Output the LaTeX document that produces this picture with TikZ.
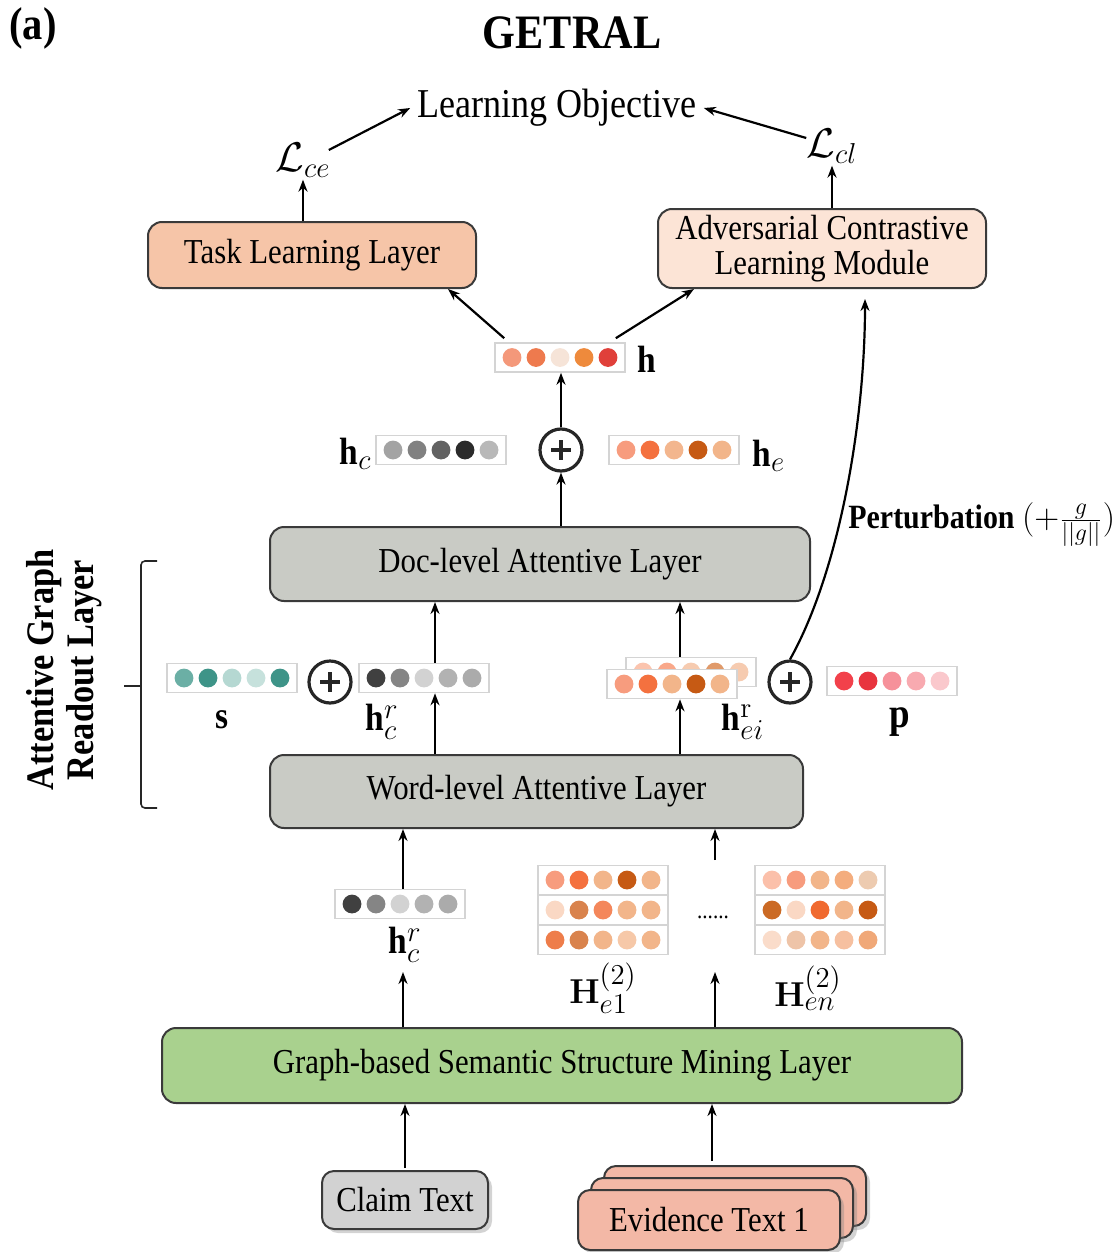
\documentclass[tikz,border=0pt]{standalone}
\usepackage[no-math]{fontspec}
\setmainfont{Liberation Serif}[FakeStretch=0.88]
\usetikzlibrary{arrows.meta,calc,shadows}

\newcommand{\fsz}[2]{\fontsize{#1}{#2}\selectfont}

\definecolor{taskfill}{HTML}{F6C5A8}
\definecolor{aclmfill}{HTML}{FCE4D6}
\definecolor{attnfill}{HTML}{C9CBC5}
\definecolor{graphfill}{HTML}{A9D18E}
\definecolor{claimfill}{HTML}{D2D2D2}
\definecolor{evidfill}{HTML}{F3B8A6}
\definecolor{edge}{HTML}{3A3A3A}

% a row of five coloured dots in a thin frame
\newcommand{\dotvec}[3]{%
  \node[vecbox] (#1) at (#2) {};
  \foreach \dcol [count=\di] in {#3} {
    \definecolor{dotc}{HTML}{\dcol}
    \fill[dotc] ($(#1.center)+({(\di-3)*24},0)$) circle[radius=4.7pt];
  }
}

% circled plus
\newcommand{\oplusnode}[2]{%
  \node[circle, draw=black!85, line width=1.6pt, minimum size=21pt, inner sep=0] (#1) at (#2) {};
  \draw[line width=1.6pt, black!85] ($(#1.center)+(-10,0)$) -- ($(#1.center)+(10,0)$)
    ($(#1.center)+(0,-10)$) -- ($(#1.center)+(0,10)$);
}

\begin{document}
\begin{tikzpicture}[x=0.5pt, y=-0.5pt,
  >={Stealth[length=6pt,width=4.5pt]},
  arr/.style={->, line width=1.1pt, black},
  layer/.style={draw=edge, line width=1pt, rounded corners=7pt, inner sep=0pt, font=\fsz{17.5}{18}},
  vecbox/.style={draw=black!17, line width=0.8pt, fill=white, minimum width=65pt, minimum height=14.5pt, inner sep=0pt},
  lbl/.style={font=\fsz{19}{22}, inner sep=1pt},
  txtbox/.style={draw=edge, line width=1pt, rounded corners=6pt, inner sep=0pt, font=\fsz{17.5}{18},
    drop shadow={shadow xshift=2pt, shadow yshift=-2pt, opacity=0.35}}
]
\useasboundingbox (0,0) rectangle (1119,1252);

% headings
\node[font=\bfseries\fsz{23}{26}] (tag) at (33,28) {(a)};
\node[font=\bfseries\fsz{24}{28}] (title) at (572,33) {GETRAL};

% objective and losses
\node[font=\fsz{20.5}{24}] (obj) at (557,108) {Learning Objective};
\node[font=\fsz{20}{24}, inner sep=1pt] (lce) at (303,160) {$\mathcal{L}_{ce}$};
\node[font=\fsz{20}{24}, inner sep=1pt] (lcl) at (832,146) {$\mathcal{L}_{cl}$};

% upper modules
\node[layer, fill=taskfill, minimum width=164pt, minimum height=33pt] (task) at (312,255) {Task Learning Layer};
\node[layer, fill=aclmfill, minimum width=164pt, minimum height=39.5pt, align=center, font=\fsz{17.5}{17.5}] (aclm) at (822,248.5) {Adversarial Contrastive\\Learning Module};

% fused representation
\dotvec{h}{560,357.5}{F4987A,EE7A4E,F6E4D8,EE8A3C,E0403A}
\node[lbl, anchor=west, font=\bfseries\fsz{19}{22}] (hlab) at (635,359) {h};

\oplusnode{plustop}{561,450}
\dotvec{hc}{441,450}{A3A3A3,818181,626262,2B2B2B,B8B8B8}
\node[lbl, anchor=east] (hclab) at (374,454) {\textbf{h}$_{c}$};
\dotvec{he}{674,450}{F79C7E,F4713F,F3B68E,C65A14,F2B58A}
\node[lbl, anchor=west] (helab) at (750,456) {\textbf{h}$_{e}$};

% readout layers
\node[layer, fill=attnfill, minimum width=270pt, minimum height=37pt] (doc) at (540,564) {Doc-level Attentive Layer};
\node[layer, fill=attnfill, minimum width=266.5pt, minimum height=36.5pt] (word) at (536.5,791.5) {Word-level Attentive Layer};

\dotvec{s}{232,678}{6BAFA5,3E9488,B5D8D2,C6E1DC,3E9488}
\node[lbl, font=\bfseries\fsz{19}{22}] (slab) at (222,720) {s};
\oplusnode{plusleft}{330,682}
\dotvec{hcrmid}{424,678}{404040,858585,D2D2D2,B2B2B2,ABABAB}
\node[lbl] (hcrmidlab) at (382,722) {\textbf{h}$^{r}_{c}$};

\dotvec{heiback}{691,672}{FBC4AE,F9A88A,F6CBB0,E09A6A,F6CBB0}
\dotvec{hei}{672,684}{F79C7E,F4713F,F2B58A,C65A14,F2B58A}
\node[lbl] (heilab) at (743,722) {\textbf{h}$^{\mathrm{r}}_{ei}$};
\oplusnode{plusright}{790,682}
\dotvec{p}{892,681}{F2414B,E8343E,F6919A,F8AAB0,FAC8CC}
\node[lbl, font=\bfseries\fsz{21}{22}] (plab) at (900,722) {p};

% square brace grouping the readout layers, and its caption
\draw[line width=0.8pt, black!85, rounded corners=2pt]
  (157,561) -- (141,561) -- (141,686) -- (141,808) -- (157,808);
\draw[line width=0.8pt, black!85] (124,686) -- (141,686);
\node[font=\bfseries\fsz{19.5}{20}, rotate=90, align=center] (readout) at (64,670) {Attentive Graph\\Readout Layer};

% graph layer outputs
\dotvec{hcrbot}{400,904}{404040,858585,D2D2D2,B2B2B2,ABABAB}
\node[lbl] (hcrbotlab) at (405,945) {\textbf{h}$^{r}_{c}$};

\dotvec{ea}{603,880}{F79C7E,F4713F,F2B58A,C65A14,F2B58A}
\dotvec{eb}{603,910}{FAD8C4,D9834D,F4875B,F2B58A,F2B58A}
\dotvec{ec}{603,940}{EE7D4A,D9834D,F2B58A,F6C8A8,F2B58A}
\node[lbl] (he1lab) at (603,988) {$\mathbf{H}^{(2)}_{e1}$};

\dotvec{na}{820,880}{FBC0AA,F79C7E,F2B58A,F4AD7E,EDCBB0}
\dotvec{nb}{820,910}{CB6A24,FAD8C4,F06A30,F2B58A,C65A14}
\dotvec{nc}{820,940}{FADCCA,EEC4A8,F2B58A,F6C0A0,F0A878}
\node[lbl] (henlab) at (808,988) {$\mathbf{H}^{(2)}_{en}$};
\node[font=\fsz{12}{14}] (dots) at (713,917) {......};

% graph layer and inputs
\node[layer, fill=graphfill, minimum width=400pt, minimum height=37.5pt] (graph) at (562,1065.5) {Graph-based Semantic Structure Mining Layer};
\node[txtbox, fill=claimfill, minimum width=83pt, minimum height=29pt] (claim) at (405,1200) {Claim Text};
\node[txtbox, fill=evidfill, minimum width=131pt, minimum height=30pt] (evid3) at (735,1196) {};
\node[txtbox, fill=evidfill, minimum width=131pt, minimum height=30pt] (evid2) at (722,1208) {};
\node[txtbox, fill=evidfill, minimum width=131pt, minimum height=30pt] (evid1) at (709,1220) {Evidence Text 1};

% connectors
\draw[arr] ($(lce.east)+(-4,-10)$) -- (obj.west);
\draw[arr] ($(lcl.west)+(2,-8)$) -- (obj.east);
\draw[arr] (task.north -| lce.south) -- (lce.south);
\draw[arr] (aclm.north -| lcl.south) -- (lcl.south);
\draw[arr] ($(h.north west)+(10,-4)$) -- ($(task.south east)+(-29,0)$);
\draw[arr] ($(h.north east)+(-10,-4)$) -- ($(aclm.south west)+(37,0)$);
\draw[arr] (plustop.north) -- (h.south -| plustop.north);
\draw[arr] (doc.north -| plustop.south) -- (plustop.south);
\draw[arr] (plusright.north) .. controls (840,570) and (865,420) .. ($(aclm.south)+(43,10)$);
\node[anchor=west, font=\fsz{17}{20}, inner sep=0pt] (pert) at (848,525) {\textbf{Perturbation} $(+\frac{g}{||g||})$};

\draw[arr] (word.north -| 435,0) -- (hcrmid.south -| 435,0);
\draw[arr] (hcrmid.north -| 435,0) -- (doc.south -| 435,0);
\draw[arr] (word.north -| 680,0) -- (hei.south -| 680,0);
\draw[arr] (heiback.north -| 680,0) -- (doc.south -| 680,0);

\coordinate (evtop) at (715,860);
\draw[arr] (hcrbot.north -| 403,0) -- (word.south -| 403,0);
\draw[arr] (evtop) -- (word.south -| evtop);

\coordinate (hcin) at (403,972);
\coordinate (ein) at (715,972);
\draw[arr] (graph.north -| hcin) -- (hcin);
\draw[arr] (graph.north -| ein) -- (ein);

\draw[arr] ($(claim.north)+(0,-2)$) -- (graph.south -| claim.north);
\draw[arr] (evid3.north -| 712,0) ++(0,-4) -- (graph.south -| 712,0);
\end{tikzpicture}
\end{document}
